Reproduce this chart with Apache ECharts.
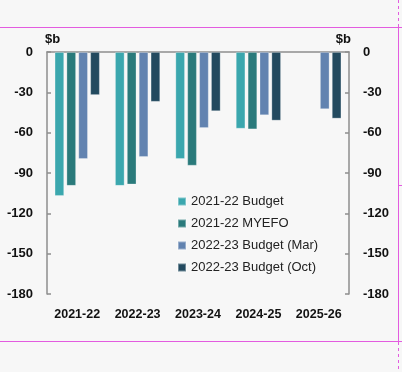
<!DOCTYPE html>
<html>
<head>
<meta charset="utf-8">
<script src="https://cdn.jsdelivr.net/npm/echarts@6/dist/echarts.min.js"></script>
<style>
html,body{margin:0;padding:0;background:#f7f7f7;}
#c{width:402px;height:372px;}
</style>
</head>
<body>
<div id="c"></div>
<script>
const categories = ['2021-22', '2022-23', '2023-24', '2024-25', '2025-26'];
const budget2122 = [-107, -99.5, -79.5, -57, null];
const myefo2122 = [-99.5, -98.5, -84.5, -57.5, null];
const budgetMar2223 = [-79.5, -78, -56.5, -47, -42.5];
const budgetOct2223 = [-32, -37, -44, -51, -49.5];
const yTicks = [0, -30, -60, -90, -120, -150, -180];

const seriesNames = ['2021-22 Budget', '2021-22 MYEFO', '2022-23 Budget (Mar)', '2022-23 Budget (Oct)'];
const seriesData = [budget2122, myefo2122, budgetMar2223, budgetOct2223];
const colors = ['#3ba7ae', '#2a7a7b', '#6283b0', '#234a5f'];

const chart = echarts.init(document.getElementById('c'), null, {renderer: 'canvas'});
const fontFam = '"Liberation Sans", Arial, sans-serif';
const axisCommon = {
  type: 'value', min: -180, max: 0, interval: 30,
  axisLine: {show: true, lineStyle: {color: '#8e8e8e', width: 1.5}},
  axisTick: {show: true, inside: true, length: 4, lineStyle: {color: '#8e8e8e', width: 1.5}},
  splitLine: {show: false},
  axisLabel: {color: '#111', fontWeight: 'bold', fontSize: 13, fontFamily: fontFam, margin: 14,
    formatter: v => yTicks.includes(v) ? String(v) : ''},
  nameLocation: 'end',
  nameGap: 6,
};
chart.setOption({
  backgroundColor: '#f7f7f7',
  animation: false,
  grid: {left: 47, right: 53, top: 52, bottom: 78},
  legend: {
    orient: 'vertical', left: 172, top: 190,
    itemWidth: 8, itemHeight: 8, itemGap: 9,
    icon: 'rect',
    textStyle: {color: '#222', fontSize: 13, fontFamily: fontFam},
    data: seriesNames
  },
  xAxis: [
    {type: 'category', data: categories, position: 'bottom',
     axisLine: {show: false, onZero: false}, axisTick: {show: false},
     axisLabel: {interval: 0, color: '#111', fontWeight: 'bold', fontSize: 12.5, fontFamily: fontFam, margin: 14}},
    {type: 'category', data: categories, position: 'top',
     axisLine: {show: true, onZero: false, lineStyle: {color: '#8e8e8e', width: 1.5}},
     axisTick: {show: false}, axisLabel: {show: false}}
  ],
  yAxis: [
    Object.assign({}, axisCommon, {position: 'left', name: '$b',
      nameTextStyle: {color: '#111', fontWeight: 'bold', fontSize: 13, fontFamily: fontFam, align: 'left', padding: [0,0,0,-2]}}),
    Object.assign({}, axisCommon, {position: 'right', name: '$b',
      nameTextStyle: {color: '#111', fontWeight: 'bold', fontSize: 13, fontFamily: fontFam, align: 'right', padding: [0,-2,0,0]}})
  ],
  series: seriesNames.map((n, i) => ({
    name: n, type: 'bar', data: seriesData[i], xAxisIndex: 0, yAxisIndex: 0,
    barWidth: 9.5, barGap: '25%', barCategoryGap: '27%',
    itemStyle: {color: colors[i], borderColor: 'rgba(255,255,255,0.35)', borderWidth: 0.8}
  })),
  graphic: [
    {type: 'line', shape: {x1: 0, y1: 27.5, x2: 402, y2: 27.5}, style: {stroke: '#e35ce0', lineWidth: 1}, silent: true},
    {type: 'line', shape: {x1: 0, y1: 341.5, x2: 402, y2: 341.5}, style: {stroke: '#e35ce0', lineWidth: 1}, silent: true},
    {type: 'line', shape: {x1: 398.5, y1: 27, x2: 398.5, y2: 342}, style: {stroke: '#e35ce0', lineWidth: 1}, silent: true},
    {type: 'line', shape: {x1: 398.5, y1: 0, x2: 398.5, y2: 27}, style: {stroke: '#e35ce0', lineWidth: 1, lineDash: [3, 3]}, silent: true},
    {type: 'line', shape: {x1: 398.5, y1: 342, x2: 398.5, y2: 372}, style: {stroke: '#e35ce0', lineWidth: 1, lineDash: [3, 3]}, silent: true},
    {type: 'line', shape: {x1: 398, y1: 185.5, x2: 402, y2: 185.5}, style: {stroke: '#e35ce0', lineWidth: 1}, silent: true}
  ]
});
</script>
</body>
</html>
